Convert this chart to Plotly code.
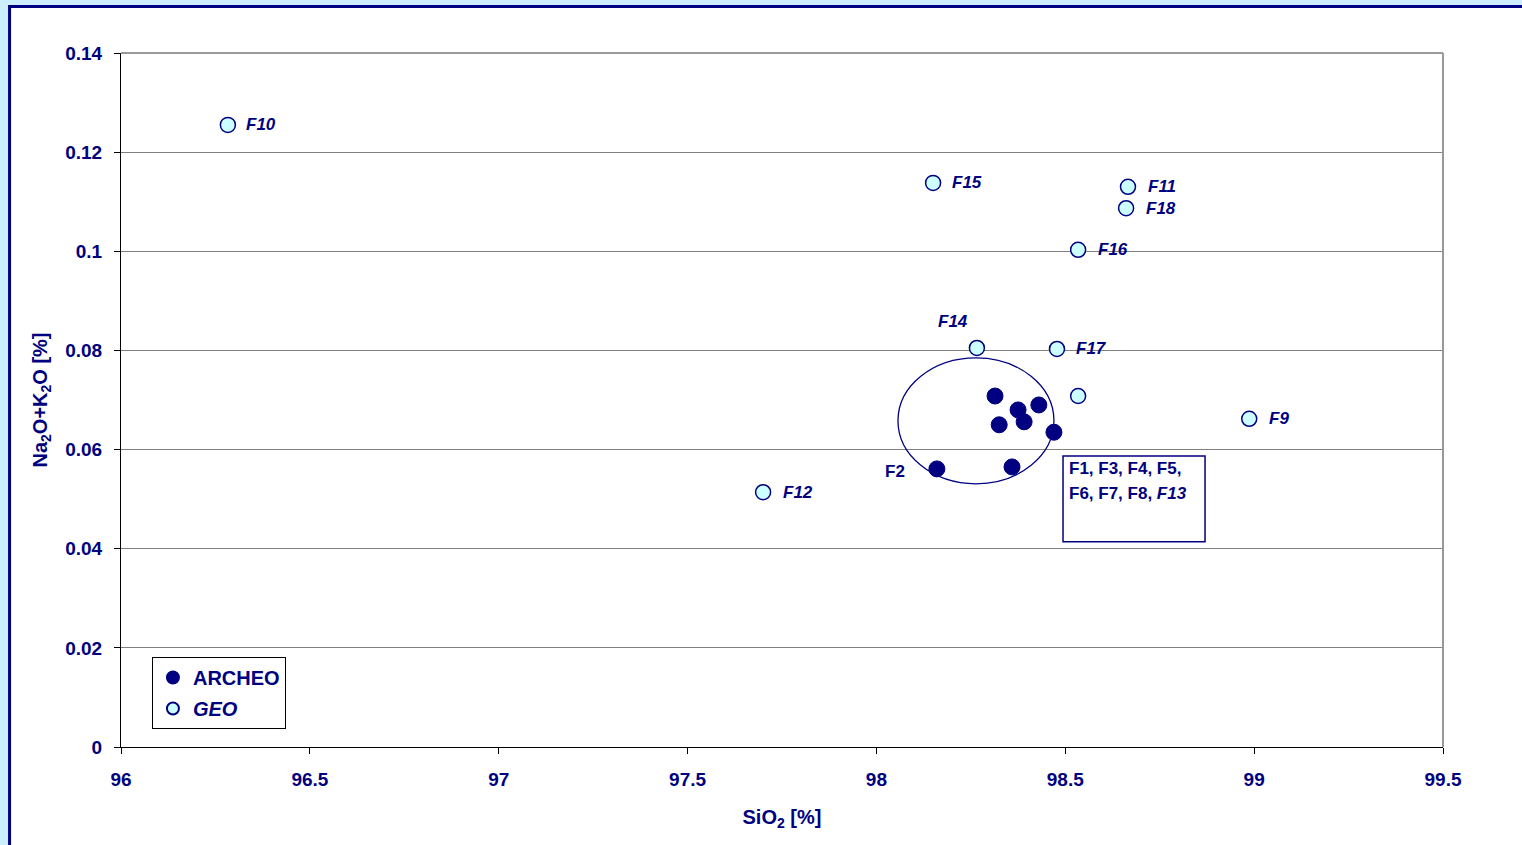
import plotly.graph_objects as go

# ---- data ----
archeo_sio2 = [98.314, 98.325, 98.375, 98.391, 98.430, 98.470, 98.160, 98.359]
archeo_alk = [0.0708, 0.0650, 0.0680, 0.0656, 0.0690, 0.0635, 0.0561, 0.0565]

geo_names = ["F10", "F15", "F11", "F18", "F16", "F14", "F17", "F13", "F9", "F12"]
geo_sio2 = [96.283, 98.150, 98.666, 98.661, 98.534, 98.266, 98.478, 98.534, 98.987, 97.700]
geo_alk = [0.1255, 0.1138, 0.1130, 0.1087, 0.1003, 0.0805, 0.0803, 0.0708, 0.0662, 0.0514]

x_ticks = [96, 96.5, 97, 97.5, 98, 98.5, 99, 99.5]
x_ticklabels = ["96", "96.5", "97", "97.5", "98", "98.5", "99", "99.5"]
y_ticks = [0, 0.02, 0.04, 0.06, 0.08, 0.10, 0.12, 0.14]
y_ticklabels = ["0", "0.02", "0.04", "0.06", "0.08", "0.1", "0.12", "0.14"]

group_lines = ["F1, F3, F4, F5,", "F6, F7, F8, <i>F13</i>"]

# ---- styles ----
NAVY = "#000080"
FONT = "Liberation Sans, Arial, sans-serif"
label_offsets = {  # name: (xanchor, xshift, yshift)
    "F10": ("left", 16, 0), "F15": ("left", 17, 0), "F11": ("left", 18, 0),
    "F18": ("left", 18, 0), "F16": ("left", 18, 0), "F14": ("center", -24, 26),
    "F17": ("left", 17, 0), "F9": ("left", 18, 0), "F12": ("left", 18, 0),
}

fig = go.Figure()
fig.add_trace(go.Scatter(
    x=archeo_sio2, y=archeo_alk, mode="markers", name="<b>ARCHEO</b>",
    legendgroup="a",
    marker=dict(size=16, color=NAVY, line=dict(color=NAVY, width=1)),
))
fig.add_trace(go.Scatter(
    x=geo_sio2, y=geo_alk, mode="markers", name="<b><i>GEO</i></b>",
    legendgroup="b",
    marker=dict(size=15, color="#CCFFFF", line=dict(color=NAVY, width=1.5)),
))

annotations = []
for name, xv, yv in zip(geo_names, geo_sio2, geo_alk):
    if name not in label_offsets:
        continue
    xa, xs, ys = label_offsets[name]
    annotations.append(dict(
        x=xv, y=yv, xref="x", yref="y", text=f"<b><i>{name}</i></b>",
        showarrow=False, xanchor=xa, yanchor="middle", xshift=xs, yshift=ys,
        font=dict(family=FONT, size=17, color=NAVY),
    ))
# F2 label (archeo point with lowest SiO2)
i_f2 = archeo_sio2.index(min(archeo_sio2))
annotations.append(dict(
    x=archeo_sio2[i_f2], y=archeo_alk[i_f2], xref="x", yref="y", text="<b>F2</b>",
    showarrow=False, xanchor="right", yanchor="middle", xshift=-30, yshift=-3,
    font=dict(family=FONT, size=17, color=NAVY),
))
# group label box text
for k, line in enumerate(group_lines):
    annotations.append(dict(
        x=98.494, y=0.0587, xref="x", yref="y", text=f"<b>{line}</b>",
        showarrow=False, xanchor="left", yanchor="top", align="left",
        xshift=4, yshift=-1 - 25 * k,
        font=dict(family=FONT, size=17, color=NAVY),
    ))

shapes = [
    # outer frame
    dict(type="rect", xref="paper", yref="paper", x0=-0.0843, x1=1.2, y0=-0.3, y1=1.067,
         line=dict(color=NAVY, width=3), fillcolor="white", layer="below"),
    # plot area top / right border (gray)
    dict(type="line", xref="paper", yref="paper", x0=0, x1=1, y0=1, y1=1,
         line=dict(color="#999999", width=2)),
    dict(type="line", xref="paper", yref="paper", x0=1, x1=1, y0=0, y1=1,
         line=dict(color="#999999", width=2)),
    # ellipse around archeo cluster
    dict(type="circle", xref="x", yref="y", x0=98.057, x1=98.470, y0=0.0531, y1=0.0785,
         line=dict(color=NAVY, width=1.3)),
    # group label box
    dict(type="rect", xref="x", yref="y", x0=98.494, x1=98.870, y0=0.0414, y1=0.0587,
         line=dict(color=NAVY, width=1.5)),
]

fig.update_layout(
    width=1522, height=845,
    margin=dict(l=121, r=79, t=53, b=98),
    paper_bgcolor="#CCEEFF", plot_bgcolor="rgba(0,0,0,0)",
    font=dict(family=FONT, color=NAVY),
    showlegend=True,
    legend=dict(
        x=0.0234, y=0.1297, xanchor="left", yanchor="top",
        bgcolor="white", bordercolor="black", borderwidth=1,
        font=dict(family=FONT, size=20, color=NAVY),
        itemsizing="constant", tracegroupgap=2, itemwidth=30,
    ),
    annotations=annotations,
    shapes=shapes,
)
fig.update_xaxes(
    range=[96, 99.5], tickvals=x_ticks, ticktext=x_ticklabels,
    showgrid=False, zeroline=False, showline=True, linecolor="black", linewidth=1,
    ticks="outside", ticklen=6, tickcolor="black", ticklabelstandoff=9,
    tickfont=dict(family=FONT, size=19, color=NAVY, weight="bold"),
    title=dict(text="<b>SiO<sub>2</sub> [%]</b>", font=dict(family=FONT, size=20, color=NAVY), standoff=21),
)
fig.update_yaxes(
    range=[0, 0.14], tickvals=y_ticks, ticktext=y_ticklabels,
    showgrid=True, gridcolor="#808080", gridwidth=1,
    zeroline=False, showline=True, linecolor="black", linewidth=1,
    ticks="outside", ticklen=6, tickcolor="black", ticklabelstandoff=8,
    tickfont=dict(family=FONT, size=19, color=NAVY, weight="bold"),
    title=dict(text="<b>Na<sub>2</sub>O+K<sub>2</sub>O [%]</b>", font=dict(family=FONT, size=20, color=NAVY), standoff=12),
)

fig.write_html("out.html", config={"displayModeBar": False},
               post_script="document.body.style.margin='0';")
